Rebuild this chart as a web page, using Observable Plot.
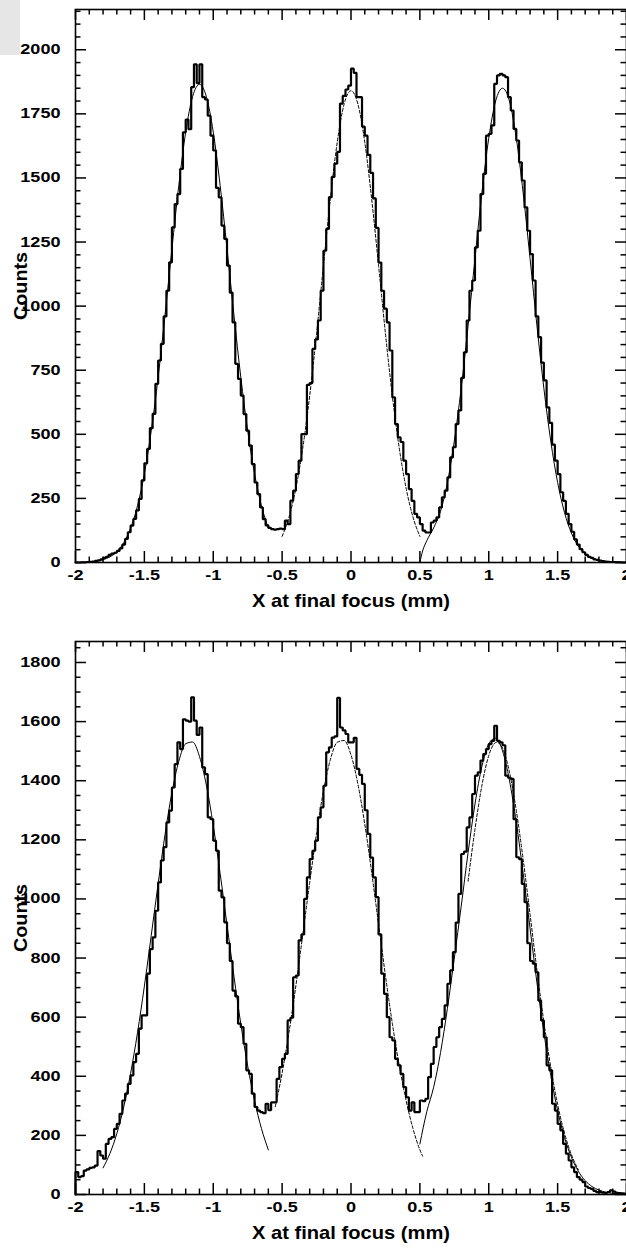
<!DOCTYPE html>
<html>
<head>
<meta charset="utf-8">
<script src="https://cdn.jsdelivr.net/npm/d3@7"></script>
<script src="https://cdn.jsdelivr.net/npm/@observablehq/plot@0.6"></script>
<style>
  html, body { margin: 0; padding: 0; background: #fff; }
  #corner { position: absolute; left: 0; top: 0; width: 20px; height: 55px; background: #e6e6e6; }
  svg { display: block; }
</style>
</head>
<body>
<div id="corner"></div>
<div id="chart"></div>
<script>
// ---------- data ----------
const binStart = -2;
const binWidth = 0.02;

const xTickLabels = [-2, -1.5, -1, -0.5, 0, 0.5, 1, 1.5, 2];
const topYTickLabels = [0, 250, 500, 750, 1000, 1250, 1500, 1750, 2000];
const bottomYTickLabels = [0, 200, 400, 600, 800, 1000, 1200, 1400, 1600, 1800];
const xTitle = "X at final focus (mm)";
const yTitle = "Counts";

// top panel histogram (200 bins, -2 .. 2 mm)
const topCounts = [
  0, 0, 1, 1, 2, 3, 4, 6, 8, 12,
  18, 22, 30, 35, 38, 45, 55, 70, 92, 118,
  144, 170, 203, 248, 320, 387, 443, 524, 580, 697,
  788, 853, 960, 1060, 1171, 1307, 1398, 1437, 1535, 1678,
  1728, 1690, 1854, 1943, 1870, 1943, 1815, 1806, 1743, 1665,
  1607, 1461, 1424, 1314, 1262, 1158, 1053, 937, 775, 716,
  651, 579, 514, 456, 384, 312, 267, 215, 169, 145,
  135, 130, 128, 130, 132, 130, 163, 150, 241, 280,
  345, 397, 501, 501, 693, 700, 833, 870, 944, 1060,
  1216, 1301, 1425, 1504, 1556, 1602, 1790, 1820, 1845, 1860,
  1926, 1910, 1815, 1815, 1700, 1665, 1590, 1520, 1420, 1305,
  1170, 1060, 990, 937, 827, 644, 540, 488, 470, 397,
  345, 286, 240, 190, 176, 150, 124, 117, 117, 156,
  163, 176, 215, 254, 280, 332, 410, 450, 540, 593,
  720, 820, 944, 1060, 1100, 1229, 1294, 1437, 1516, 1665,
  1672, 1705, 1867, 1900, 1906, 1900, 1893, 1815, 1763, 1691,
  1646, 1561, 1490, 1385, 1294, 1203, 1100, 960, 879, 780,
  710, 605, 545, 460, 397, 345, 274, 240, 190, 150,
  120, 90, 70, 52, 40, 30, 22, 18, 12, 10,
  7, 5, 4, 3, 2, 2, 1, 1, 0, 0
];

// bottom panel histogram (200 bins, -2 .. 2 mm)
const bottomCounts = [
  76, 59, 62, 81, 85, 90, 92, 98, 147, 132,
  121, 171, 188, 194, 222, 239, 273, 318, 341, 374,
  403, 448, 476, 561, 606, 606, 747, 830, 870, 960,
  1056, 1130, 1175, 1259, 1299, 1377, 1456, 1530, 1507, 1608,
  1603, 1600, 1682, 1603, 1555, 1580, 1445, 1422, 1276, 1270,
  1197, 1163, 1028, 1005, 921, 850, 790, 690, 670, 578,
  566, 510, 420, 408, 341, 296, 284, 279, 275, 307,
  285, 312, 312, 391, 431, 459, 476, 589, 598, 735,
  741, 860, 880, 1000, 1073, 1135, 1163, 1197, 1276, 1310,
  1383, 1496, 1513, 1546, 1550, 1680, 1580, 1570, 1558, 1530,
  1530, 1545, 1440, 1420, 1389, 1300, 1220, 1140, 1073, 1006,
  880, 747, 679, 600, 532, 521, 459, 437, 408, 363,
  329, 284, 312, 279, 279, 318, 316, 324, 397, 442,
  499, 532, 566, 594, 640, 713, 758, 820, 920, 1017,
  1152, 1160, 1242, 1276, 1355, 1417, 1428, 1468, 1490, 1507,
  1524, 1535, 1586, 1535, 1530, 1520, 1417, 1410, 1406, 1270,
  1141, 1135, 1051, 989, 850, 790, 781, 752, 656, 589,
  532, 437, 420, 307, 284, 239, 217, 171, 138, 115,
  92, 76, 59, 50, 42, 27, 22, 19, 12, 8,
  8, 6, 5, 8, 14, 10, 6, 5, 4, 3
];

// fitted curves
const topFitLeftX = [-1.9,-1.85,-1.8,-1.75,-1.7,-1.65,-1.6,-1.55,-1.5,-1.45,-1.4,-1.35,-1.3,-1.25,-1.2,-1.15,-1.1,-1.05,-1,-0.95,-0.9,-0.85,-0.8,-0.75,-0.7,-0.65,-0.6];
const topFitLeftY = [2,5,11,22,42,77,134,221,346,514,723,966,1224,1471,1679,1817,1865,1817,1679,1471,1224,966,723,514,346,221,134];

const topFitMidX = [-0.5,-0.45,-0.4,-0.35,-0.3,-0.25,-0.2,-0.15,-0.1,-0.05,0,0.05,0.1,0.15,0.2,0.25,0.3,0.35,0.4,0.45,0.5];
const topFitMidY = [102,177,290,447,650,893,1159,1418,1639,1788,1840,1788,1639,1418,1159,893,650,447,290,177,102];

const topFitRightX = [0.5,0.52,0.55,0.6,0.65,0.7,0.75,0.8,0.85,0.9,0.95,1,1.05,1.1,1.15,1.2,1.25,1.3,1.35,1.4,1.45,1.5,1.55,1.6,1.65,1.7,1.75,1.8,1.85,1.9,1.95,2];
const topFitRightY = [0,45,85,135,200,312,474,680,923,1185,1441,1655,1800,1850,1800,1655,1441,1185,923,680,474,312,195,115,64,34,17,8,4,2,1,0];

const botFitLeftX = [-1.8,-1.75,-1.7,-1.65,-1.6,-1.55,-1.5,-1.45,-1.4,-1.35,-1.3,-1.25,-1.2,-1.15,-1.1,-1.05,-1,-0.95,-0.9,-0.85,-0.8,-0.75,-0.7,-0.65,-0.6];
const botFitLeftY = [90,139,206,296,410,547,705,877,1052,1218,1360,1466,1525,1531,1482,1385,1249,1086,912,739,577,435,317,223,151];

const botFitMidX = [-0.55,-0.5,-0.45,-0.4,-0.35,-0.3,-0.25,-0.2,-0.15,-0.1,-0.05,0,0.05,0.1,0.15,0.2,0.25,0.3,0.35,0.4,0.45,0.5,0.52];
const botFitMidY = [297,411,549,707,880,1055,1222,1365,1471,1530,1536,1487,1389,1253,1090,915,741,579,437,318,223,151,130];

const botFitRightX = [0.5,0.55,0.6,0.65,0.7,0.75,0.8,0.85,0.9,0.95,1,1.05,1.1,1.15,1.2,1.25,1.3,1.35,1.4,1.45,1.5,1.55,1.6,1.65,1.7,1.75,1.8,1.85,1.9,1.95,2];
const botFitRightY = [171,280,363,480,630,800,975,1157,1321,1448,1525,1544,1501,1402,1259,1086,900,716,548,403,284,193,126,79,47,27,15,8,4,2,1];

const botFitRight2X = [0.85,0.9,0.95,1,1.05,1.06,1.1,1.15,1.2,1.25,1.3,1.35,1.4,1.45,1.5,1.55,1.6,1.65];
const botFitRight2Y = [1060,1236,1383,1485,1529,1530,1510,1430,1299,1133,947,759,584,431,305,207,135,84];

// ---------- drawing ----------
const W = 626, ML = 75, MR = 0;
const xMinorTicks = d3.range(-19, 20).map(i => i / 10).filter(v => !xTickLabels.includes(v));

function stepPoints(counts) {
  const pts = [{x: binStart, y: 0}];
  counts.forEach((c, i) => pts.push({x: binStart + i * binWidth, y: c}));
  pts.push({x: binStart + counts.length * binWidth, y: counts[counts.length - 1]});
  pts.push({x: binStart + counts.length * binWidth, y: 0});
  return pts;
}

function fitLine(xs, ys, dashed) {
  return Plot.line(d3.zip(xs, ys), {
    x: d => d[0], y: d => d[1], curve: "monotone-x",
    stroke: "black", strokeWidth: 1,
    strokeDasharray: dashed ? "3,2" : null
  });
}

function panel({counts, fits, yMax, yMajor, yMinorStep, height, marginTop, marginBottom}) {
  const plotW = W - ML - MR;
  const plotH = height - marginTop - marginBottom;
  const yMinor = d3.range(yMinorStep, yMax, yMinorStep).filter(v => !yMajor.includes(v));
  const MAJ = 11, MIN = 5.5;
  return Plot.plot({
    width: W, height, marginLeft: ML, marginRight: MR, marginTop, marginBottom,
    x: {domain: [-2, 2]},
    y: {domain: [0, yMax]},
    style: {fontFamily: "'Liberation Sans', Arial, sans-serif", fontSize: "14px", fontWeight: "bold", color: "black", background: "white", overflow: "visible"},
    marks: [
      Plot.line(stepPoints(counts), {x: "x", y: "y", curve: "step-after", stroke: "black", strokeWidth: 2.2, strokeLinejoin: "miter"}),
      ...fits,
      Plot.frame({stroke: "black", strokeWidth: 1.6}),
      Plot.tickX(xTickLabels, {x: d => d, insetTop: plotH - MAJ, stroke: "black", strokeWidth: 1.5}),
      Plot.tickX(xTickLabels, {x: d => d, insetBottom: plotH - MAJ, stroke: "black", strokeWidth: 1.5}),
      Plot.tickX(xMinorTicks, {x: d => d, insetTop: plotH - MIN, stroke: "black", strokeWidth: 1.5}),
      Plot.tickX(xMinorTicks, {x: d => d, insetBottom: plotH - MIN, stroke: "black", strokeWidth: 1.5}),
      Plot.tickY(yMajor, {y: d => d, insetRight: plotW - MAJ, stroke: "black", strokeWidth: 1.5}),
      Plot.tickY(yMajor, {y: d => d, insetLeft: plotW - MAJ, stroke: "black", strokeWidth: 1.5}),
      Plot.tickY(yMinor, {y: d => d, insetRight: plotW - MIN, stroke: "black", strokeWidth: 1.5}),
      Plot.tickY(yMinor, {y: d => d, insetLeft: plotW - MIN, stroke: "black", strokeWidth: 1.5}),
      Plot.axisX(xTickLabels, {tickSize: 0, tickPadding: 8, tickFormat: d => String(d), label: null, fontSize: 14}),
      Plot.axisY(yMajor, {tickSize: 0, tickPadding: 15, tickFormat: d => String(d), label: null, fontSize: 14}),
      Plot.text([xTitle], {text: d => d, frameAnchor: "bottom", dy: 31, lineAnchor: "top", textAnchor: "middle", fontSize: 18.5, fontWeight: "bold", fill: "black"}),
      Plot.text([yTitle], {text: d => d, frameAnchor: "left", dx: -55, rotate: -90, lineAnchor: "middle", textAnchor: "middle", fontSize: 19, fontWeight: "bold", fill: "black"})
    ]
  });
}

const chart = document.getElementById("chart");
const topPlot = panel({
  counts: topCounts,
  fits: [
    fitLine(topFitLeftX, topFitLeftY, false),
    fitLine(topFitMidX, topFitMidY, true),
    fitLine(topFitRightX, topFitRightY, false)
  ],
  yMax: 2157, yMajor: topYTickLabels, yMinorStep: 50,
  height: 625, marginTop: 9, marginBottom: 63
});
const bottomPlot = panel({
  counts: bottomCounts,
  fits: [
    fitLine(botFitLeftX, botFitLeftY, false),
    fitLine(botFitMidX, botFitMidY, true),
    fitLine(botFitRightX, botFitRightY, false),
    fitLine(botFitRight2X, botFitRight2Y, true)
  ],
  yMax: 1871, yMajor: bottomYTickLabels, yMinorStep: 50,
  height: 623, marginTop: 16, marginBottom: 54
});
chart.appendChild(topPlot);
chart.appendChild(bottomPlot);

// the original lettering is wider than the font's natural advance
for (const svg of [topPlot, bottomPlot]) {
  for (const t of svg.querySelectorAll("text")) {
    const s = t.textContent;
    const w = t.getComputedTextLength();
    let target;
    if (s === yTitle) target = 68;
    else if (s === xTitle) target = 198;
    else target = w * 1.29;
    t.setAttribute("textLength", target.toFixed(1));
    t.setAttribute("lengthAdjust", "spacingAndGlyphs");
  }
}
</script>
</body>
</html>
